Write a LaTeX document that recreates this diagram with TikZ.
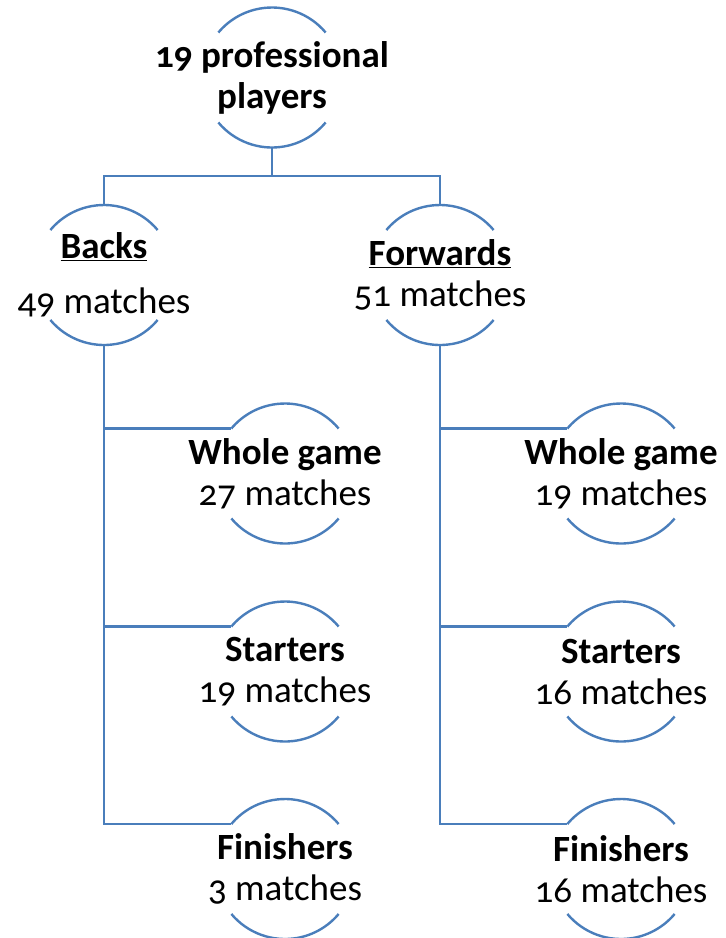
\documentclass[tikz,border=0pt]{standalone}
\usepackage{fontspec}
\setmainfont[Numbers=OldStyle]{Carlito}
\definecolor{lineblue}{HTML}{4A7EBB}
\tikzstyle{ring}=[inner sep=0pt,outer sep=0pt,align=center,font=\fontsize{37}{41}\selectfont]
\tikzstyle{link}=[draw=lineblue,line width=2.4pt]

\begin{document}
\begin{tikzpicture}[x=1pt,y=-1pt]
\useasboundingbox (0,0) rectangle (726,938);
\node[ring] (top) at (272,77.5) {\textbf{19 professional}\\\textbf{players}};
\node[ring] (backs) at (104,275) {\textbf{\underline{Backs}}\\[14pt]49 matches};
\node[ring] (fwd) at (440,275) {\textbf{\underline{Forwards}}\\51 matches};
\node[ring] (bw) at (285,473.5) {\textbf{Whole game}\\27 matches};
\node[ring] (bs) at (285,671.5) {\textbf{Starters}\\19 matches};
\node[ring] (bf) at (285,869) {\textbf{Finishers}\\3 matches};
\node[ring] (fw) at (621,473.5) {\textbf{Whole game}\\19 matches};
\node[ring] (fs) at (621,671.5) {\textbf{Starters}\\16 matches};
\node[ring] (ff) at (621,869) {\textbf{Finishers}\\16 matches};
% ring arcs, radius 70
\foreach \n in {top,backs,fwd,bw,bs,bf,fw,fs,ff} {
  \draw[link] ([shift={(40:70pt)}]\n.center) arc (40:140:70pt);
  \draw[link] ([shift={(220:70pt)}]\n.center) arc (220:320:70pt);
  \coordinate (\n N) at ([shift={(90:70pt)}]\n.center);
  \coordinate (\n S) at ([shift={(270:70pt)}]\n.center);
  \coordinate (\n W) at ([shift={(140:70pt)}]\n.center);
}
\coordinate (split) at (272,176);
\draw[link] (topS) -- (split);
\draw[link] (backsN) |- (split) -| (fwdN);
\draw[link] (backsS) |- (bfW);
\draw[link] (backsS |- bwW) -- (bwW);
\draw[link] (backsS |- bsW) -- (bsW);
\draw[link] (fwdS) |- (ffW);
\draw[link] (fwdS |- fwW) -- (fwW);
\draw[link] (fwdS |- fsW) -- (fsW);
\end{tikzpicture}
\end{document}
